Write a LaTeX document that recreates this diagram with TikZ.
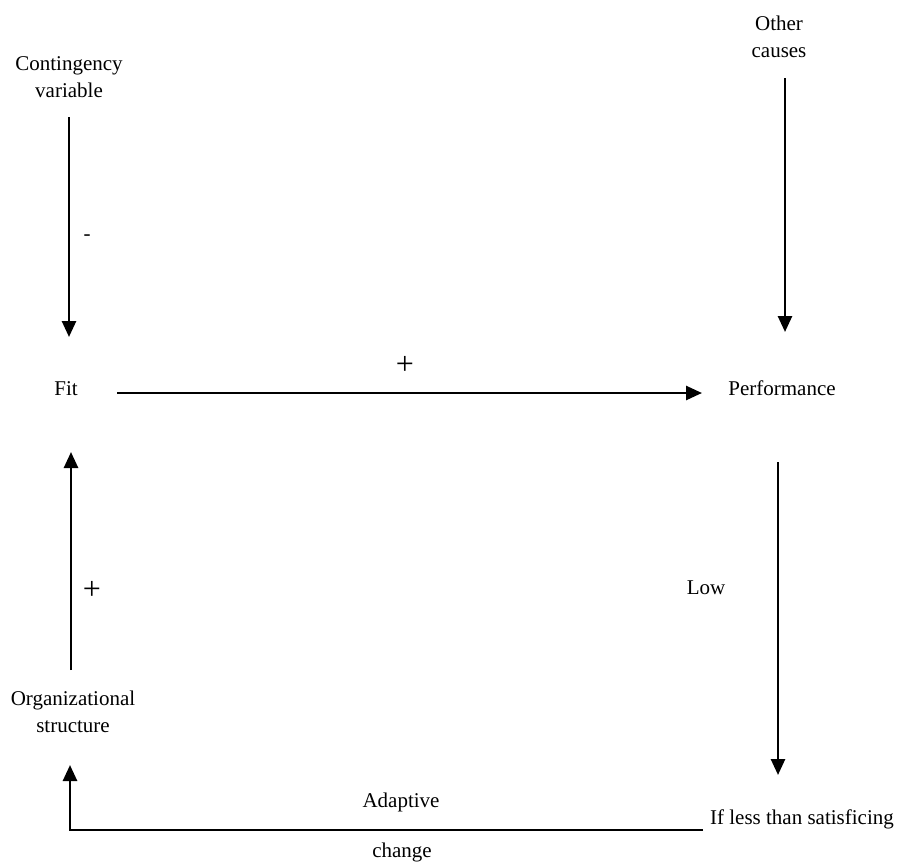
\documentclass[tikz,border=0pt]{standalone}
\usepackage{fontspec}
\setmainfont{Liberation Serif}
\usetikzlibrary{arrows.meta}
\tikzset{
  lbl/.style={font=\fontsize{21}{27}\selectfont, inner sep=0pt,
              text height=0.7em, text depth=0.2em},
  lbltwo/.style={font=\fontsize{21}{27}\selectfont, align=center, inner sep=0pt},
  sign/.style={font=\fontsize{32}{32}\selectfont, inner sep=0pt},
  arr/.style={line width=2.6pt, -{Triangle[width=14pt,length=16pt]}},
  link/.style={line width=2.6pt}
}
\begin{document}
\begin{tikzpicture}[x=1pt,y=-1pt]
  \useasboundingbox (0,0) rectangle (904,865);

  % concept labels
  \node[lbltwo] (cv)  at (69,77)   {Contingency\\variable};
  \node[lbltwo] (oc)  at (779,37)  {Other\\causes};
  \node[lbl] (fit)    at (66,393)  {Fit};
  \node[lbl] (perf)   at (782,393) {Performance};
  \node[lbltwo] (org) at (73,712)  {Organizational\\structure};
  \node[lbl] (less)   at (802,822) {If less than satisficing};

  % edge labels
  \node[lbl] (low)   at (706,592) {Low};
  \node[lbl] (adapt) at (401,805) {Adaptive};
  \node[lbl] (chg)   at (402,855) {change};
  \node[lbl] (minus) at (87,238)  {-};
  \node[sign] (plusA) at (405,365) {+};
  \node[sign] (plusB) at (92,590)  {+};

  % connector end points
  \coordinate (cvS)   at (69,117);
  \coordinate (fitN)  at (69,337);
  \coordinate (ocS)   at (785,78);
  \coordinate (perfN) at (785,332);
  \coordinate (fitE)  at (117,393);
  \coordinate (perfW) at (702,393);
  \coordinate (perfS) at (778,462);
  \coordinate (lessN) at (778,775);
  \coordinate (orgN)  at (71,670);
  \coordinate (fitS)  at (71,452);
  \coordinate (lessW) at (703,830);
  \coordinate (orgS)  at (70,765);

  % connectors
  \draw[arr] (cvS) -- (fitN);
  \draw[arr] (ocS) -- (perfN);
  \draw[arr] (fitE) -- (perfW);
  \draw[arr] (perfS) -- (lessN);
  \draw[arr] (orgN) -- (fitS);
  \draw[arr] (lessW) -| (orgS);
\end{tikzpicture}
\end{document}
